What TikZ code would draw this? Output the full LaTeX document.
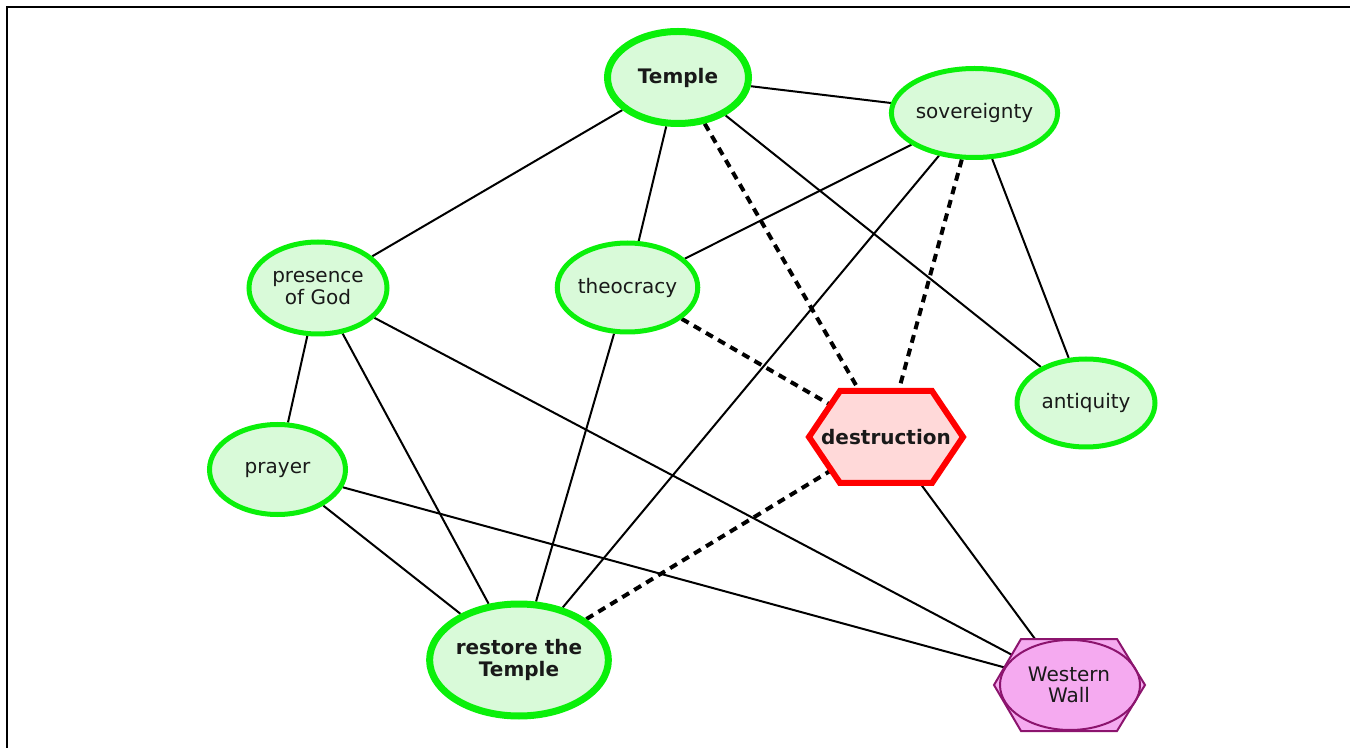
\documentclass[tikz,border=0pt]{standalone}
\usepackage{fontspec}
\setmainfont{DejaVu Sans}
\usetikzlibrary{shapes.geometric,backgrounds}
\definecolor{gfill}{RGB}{217,250,217}
\definecolor{gline}{RGB}{10,240,10}
\definecolor{rfill}{RGB}{255,217,217}
\definecolor{wfill}{RGB}{245,170,240}
\definecolor{wline}{RGB}{140,20,110}
\definecolor{txt}{RGB}{25,25,25}
\begin{document}
\begin{tikzpicture}[x=0.75pt,y=-0.75pt,
  concept/.style={ellipse, draw=gline, fill=gfill, line width=3.75pt, text=txt,
    font=\fontsize{15}{16}\selectfont, align=center, inner sep=0pt},
  mainconcept/.style={concept, line width=5.25pt, font=\fontsize{15}{16}\selectfont\bfseries},
  edge/.style={line width=1.5pt, black},
  dashedge/.style={line width=3pt, black, dash pattern=on 6pt off 4.5pt},
  plain/.style={text=txt, align=center, inner sep=0pt, font=\fontsize{15}{16}\selectfont}]
\useasboundingbox (0,0) rectangle (1350,748);
\draw[line width=2pt] (7,748) -- (7,7) -- (1350,7);

\node[mainconcept, minimum width=141*0.75pt, minimum height=92*0.75pt] (temple) at (678,77.5) {Temple};
\node[concept, minimum width=134*0.75pt, minimum height=89*0.75pt] (sov) at (974.5,113) {sovereignty};
\node[concept, minimum width=138*0.75pt, minimum height=92*0.75pt] (pres) at (318,288) {presence\\of God};
\node[concept, minimum width=139*0.75pt, minimum height=89*0.75pt] (theo) at (627.5,287.5) {theocracy};
\node[concept, minimum width=138*0.75pt, minimum height=88*0.75pt] (anti) at (1086,403) {antiquity};
\node[concept, minimum width=136*0.75pt, minimum height=90*0.75pt] (prayer) at (277.5,469.5) {prayer};
\node[mainconcept, minimum width=166*0.75pt, minimum height=112*0.75pt] (restore) at (519,660) {restore the\\Temple};
\node[plain, font=\fontsize{15}{16}\selectfont\bfseries] (dest) at (886,437) {destruction};
\node[plain] (ww) at (1069,685) {Western\\Wall};

\begin{pgfonlayer}{background}
\draw[edge] (temple) -- (sov);
\draw[edge] (temple) -- (pres);
\draw[edge] (temple) -- (theo);
\draw[edge] (temple) -- (anti);
\draw[edge] (sov) -- (theo);
\draw[edge] (sov) -- (anti);
\draw[edge] (sov) -- (restore);
\draw[edge] (pres) -- (prayer);
\draw[edge] (pres) -- (restore);
\draw[edge] (pres) -- (ww.center);
\draw[edge] (theo) -- (restore);
\draw[edge] (prayer) -- (restore);
\draw[edge] (prayer) -- (ww.center);
\draw[edge] (dest.center) -- (ww.center);
\draw[dashedge] (temple) -- (dest.center);
\draw[dashedge] (sov) -- (dest.center);
\draw[dashedge] (theo) -- (dest.center);
\draw[dashedge] (restore) -- (dest.center);
\draw[line width=4.5pt, draw=red, fill=rfill, line join=miter]
  (809,437) -- (840,391) -- (932,391) -- (963,437) -- (932,483) -- (840,483) -- cycle;
\draw[line width=1.5pt, draw=wline, fill=wfill]
  (994,685) -- (1021,639) -- (1117,639) -- (1145,685) -- (1117,731) -- (1021,731) -- cycle;
\draw[line width=1.5pt, draw=wline] (1070,685) ellipse [x radius=70, y radius=45];
\end{pgfonlayer}
\end{tikzpicture}
\end{document}
